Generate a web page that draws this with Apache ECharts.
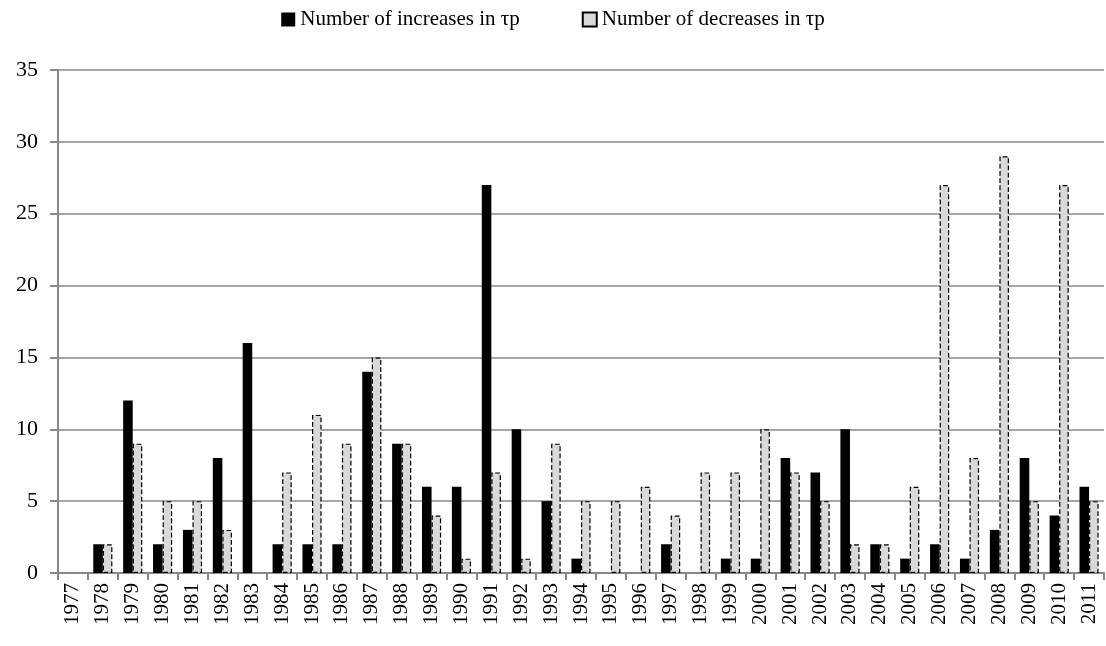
<!DOCTYPE html>
<html><head><meta charset="utf-8">
<script src="https://cdn.jsdelivr.net/npm/echarts@6/dist/echarts.min.js"></script>
<style>html,body{margin:0;padding:0;background:#fff}#c{width:1106px;height:646px}</style>
</head><body><div id="c"></div>
<script>
const years = [];
for (let y = 1977; y <= 2011; y++) years.push(String(y));
const increases = [0,2,12,2,3,8,16,2,2,2,14,9,6,6,27,10,5,1,0,0,2,0,1,1,8,7,10,2,1,2,1,3,8,4,6];
const decreases = [0,2,9,5,5,3,0,7,11,9,15,9,4,1,7,1,9,5,5,6,4,7,7,10,7,5,2,2,6,27,8,29,5,27,5];
// zero counts draw no bar
const hideZero = arr => arr.map(v => (v === 0 ? '-' : v));

const font = 'Liberation Serif';
const chart = echarts.init(document.getElementById('c'));
chart.setOption({
  animation: false,
  textStyle: { fontFamily: font, color: '#000' },
  legend: {
    top: 4, left: 'center', itemGap: 62, itemWidth: 14, itemHeight: 14, icon: 'rect',
    textStyle: { fontFamily: font, fontSize: 21, color: '#000' },
    data: ['Number of increases in τp', 'Number of decreases in τp']
  },
  grid: { left: 58, right: 2, top: 70, bottom: 73, containLabel: false },
  xAxis: {
    type: 'category', data: years,
    axisLine: { lineStyle: { color: '#888', width: 2 } },
    axisTick: { show: true, length: 7, alignWithLabel: false, lineStyle: { color: '#888', width: 2 } },
    axisLabel: { rotate: 90, fontSize: 21, color: '#000', fontFamily: font, interval: 0, margin: 10 }
  },
  yAxis: {
    type: 'value', min: 0, max: 35, interval: 5,
    axisLine: { show: true, lineStyle: { color: '#888', width: 2 } },
    axisTick: { show: true, length: 8, lineStyle: { color: '#888', width: 2 } },
    splitLine: { lineStyle: { color: '#888', width: 1.5 } },
    axisLabel: { fontSize: 22, color: '#000', fontFamily: font, margin: 20 }
  },
  series: [
    { name: 'Number of increases in τp', type: 'bar', data: hideZero(increases),
      barGap: '0%', barCategoryGap: '36%',
      itemStyle: { color: '#000' } },
    { name: 'Number of decreases in τp', type: 'bar', data: hideZero(decreases),
      itemStyle: { color: '#d9d9d9', borderColor: '#000', borderWidth: 1.2, borderType: 'dashed' } }
  ]
});
</script></body></html>
